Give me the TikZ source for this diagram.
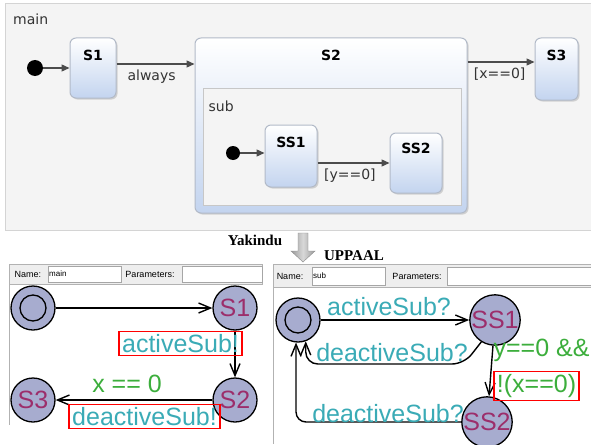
\documentclass[tikz,border=0pt]{standalone}
\usepackage{fontspec}
\setmainfont{Liberation Sans}
\newfontfamily\yakfont{DejaVu Sans}
\newfontfamily\capfont{Liberation Serif}
\usetikzlibrary{positioning,arrows.meta,shadows}

\definecolor{panelgray}{HTML}{F4F4F4}
\definecolor{panelline}{HTML}{D4D4D4}
\definecolor{boxblue}{HTML}{C3D4EF}
\definecolor{boxedge}{HTML}{B2BAC8}
\definecolor{edgegray}{HTML}{4C4C4C}
\definecolor{locfill}{HTML}{A7ACCF}
\definecolor{locname}{HTML}{9C2E6B}
\definecolor{synccol}{HTML}{3AABB6}
\definecolor{guardcol}{HTML}{3CAE3C}
\definecolor{hdrgray}{HTML}{EEEEEE}

\tikzset{
  % statechart side
  ystate/.style={draw=boxedge,line width=1pt,rounded corners=6pt,
    top color=white,bottom color=boxblue,
    drop shadow={shadow xshift=1.5pt,shadow yshift=-1.5pt,opacity=.3}},
  ytitle/.style={inner sep=0pt,font=\yakfont\bfseries\fontsize{14}{16}\selectfont},
  ytext/.style={inner sep=0pt,text=black!80,font=\yakfont\fontsize{14}{16}\selectfont},
  yinit/.style={circle,fill=black,inner sep=0pt,minimum size=#1},
  yedge/.style={draw=edgegray,line width=1.3pt,-{Triangle[length=8pt,width=7pt]}},
  % timed automata side
  ustate/.style={circle,draw=black,line width=1.3pt,fill=locfill,inner sep=0pt,
    minimum size=44pt,text=locname,font=\fontsize{25}{28}\selectfont},
  uedge/.style={draw=black,line width=1.4pt,-{Straight Barb[length=12pt,width=10pt]}},
  usync/.style={inner sep=2pt,text=synccol,font=\fontsize{25}{28}\selectfont},
  uguard/.style={inner sep=2pt,text=guardcol,font=\fontsize{25}{28}\selectfont},
  hilite/.style={draw=red,line width=1.6pt,inner sep=3pt},
  uhead/.style={inner sep=0pt,font=\fontsize{9}{10}\selectfont},
  ufield/.style={draw=black!35,fill=white},
}

\begin{document}
\begin{tikzpicture}[x=1pt,y=-1pt]
\useasboundingbox[fill=white] (0,0) rectangle (591,444);

% ---- Yakindu statechart ----
\draw[panelline,fill=panelgray] (5,3) rectangle (591,230);
\coordinate (mainc) at (5,3);
\node[ytext,below right=11pt and 8pt of mainc] (mainlbl) {main};

\node[yinit=16pt] (i0) at (35,68) {};
\node[ystate,minimum width=46pt,minimum height=60pt] (s1) at (93,68) {};
\node[ytitle,below=12pt of s1.north] (s1t) {S1};

\node[ystate,minimum width=272pt,minimum height=175pt] (s2) at (331,125.5) {};
\node[ytitle,below=12pt of s2.north] (s2t) {S2};
\node[draw=black!22,fill=panelgray,line width=1pt,minimum width=258pt,minimum height=117pt] (sub) at (332,146.5) {};
\node[ytext,below right=13pt and 6pt of sub.north west] (sublbl) {sub};

\node[yinit=14pt] (si) at (233,153) {};
\node[ystate,minimum width=52pt,minimum height=62pt] (ss1) at (291,156) {};
\node[ytitle,below=12pt of ss1.north] (ss1t) {SS1};
\node[ystate,minimum width=52pt,minimum height=60pt] (ss2) at (416,163) {};
\node[ytitle,below=10pt of ss2.north] (ss2t) {SS2};

\node[ystate,minimum width=43pt,minimum height=62pt] (s3) at (556.5,69) {};
\node[ytitle,below=12pt of s3.north] (s3t) {S3};

\draw[yedge] (i0) -- (s1);
\coordinate (a2) at ([yshift=4pt]s1.east);
\draw[yedge] (a2) -- (a2 -| s2.west) node[ytext,below=5pt,pos=.45] {always};
\coordinate (a3) at ([yshift=7pt]s3.west);
\draw[yedge] (a3 -| s2.east) -- (a3) node[ytext,below=5pt,pos=.48] {[x==0]};
\draw[yedge] (si) -- (si -| ss1.west);
\coordinate (b2) at ([yshift=-7pt]ss1.east);
\draw[yedge] (b2) -- (b2 -| ss2.west) node[ytext,below=5pt,pos=.45] {[y==0]};

% ---- translation arrow ----
\node[inner sep=0pt,font=\capfont\bfseries\fontsize{15}{17}\selectfont] (yak) at (255,240) {Yakindu};
\node[inner sep=0pt,font=\capfont\bfseries\fontsize{15}{17}\selectfont] (upp) at (354,256) {UPPAAL};
\draw[draw=black!45,left color=black!40,right color=black!40,middle color=black!15]
  (298,233) -- (308,233) -- (308,251) -- (315,251) -- (303,262) -- (291,251) -- (298,251) -- cycle;

% ---- UPPAAL: main template ----
\draw[black!30,fill=hdrgray] (9,264) rectangle (262,284);
\node[uhead] (n1) at (28,274) {Name:};
\draw[ufield] (48,266) rectangle (121,282);
\node[uhead,anchor=west,font=\fontsize{8}{9}\selectfont] (n1v) at (49,274) {main};
\node[uhead] (p1) at (150,274) {Parameters:};
\draw[ufield] (182,266) rectangle (262,282);
\draw[black!30] (9,284) -- (9,425);

\node[ustate] (uinit) at (33,308) {};
\draw[line width=1.3pt] (uinit.center) circle[radius=13];
\node[ustate] (us1) at (235,308) {S1};
\node[ustate] (us2) at (235,400) {S2};
\node[ustate] (us3) at (33,400) {S3};

\draw[uedge] (uinit) -- (us1);
\draw[uedge] (us1) -- (us2);
\draw[uedge] (us2) -- (us3);
\node[usync,hilite] (l1) at (180.5,343.5) {activeSub!};
\node[uguard] (l2) at (127,384) {x == 0};
\node[usync,hilite] (l3) at (144.5,416.5) {deactiveSub!};

% ---- UPPAAL: sub template ----
\draw[black!30,fill=hdrgray] (273,264) rectangle (591,287);
\node[uhead] (n2) at (290,276) {Name:};
\draw[ufield] (312,267) rectangle (385,285);
\node[uhead,anchor=west,font=\fontsize{8}{9}\selectfont] (n2v) at (313,276) {sub};
\node[uhead] (p2) at (417,276) {Parameters:};
\draw[ufield] (447,267) rectangle (591,285);
\draw[black!30] (273,287) -- (273,444);

\node[ustate] (uinit2) at (298,320) {};
\draw[line width=1.3pt] (uinit2.center) circle[radius=13];
\node[ustate] (uss1) at (495,320) {SS1};
\node[ustate] (uss2) at (487,422) {SS2};

\draw[uedge] (uinit2) -- (uss1);
\coordinate (k1) at (464,364);
\coordinate (k2) at (uinit2.290 |- k1);
\draw[uedge,rounded corners=12pt] (uss1.238) -- (k1) -- (k2) -- (uinit2.290);
\draw[uedge] (uss1) -- (uss2);
\coordinate (k3) at (uss2.west -| uinit2.265);
\draw[uedge,rounded corners=10pt] (uss2.west) -- (k3) -- (uinit2.265);

\node[usync] (m1) at (389,307) {activeSub?};
\node[usync] (m2) at (392,353) {deactiveSub?};
\node[uguard] (m3) at (541.5,350.5) {y==0 \&\&};
\node[uguard,hilite] (m4) at (536.5,386) {!(x==0)};
\node[usync] (m5) at (388,414) {deactiveSub?};
\end{tikzpicture}
\end{document}
